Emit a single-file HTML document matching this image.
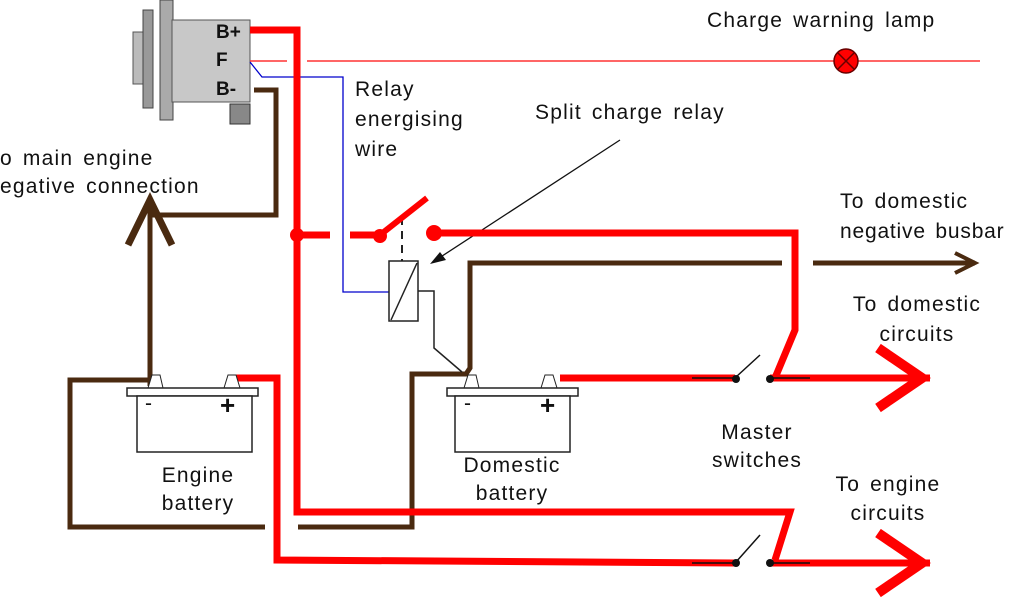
<!DOCTYPE html>
<html><head><style>
html,body{margin:0;padding:0;background:#fff;width:1024px;height:600px;overflow:hidden}
svg text{font-family:"Liberation Sans",sans-serif;font-size:21px;letter-spacing:1.2px;word-spacing:3px;fill:#111}
</style></head><body>
<svg width="1024" height="600" viewBox="0 0 1024 600" xmlns="http://www.w3.org/2000/svg">
<rect x="133" y="32" width="10" height="52" fill="#bbb" stroke="#555"/>
<rect x="143" y="10" width="10" height="98" fill="#999" stroke="#444"/>
<rect x="160" y="0" width="13" height="120" fill="#aaa" stroke="#444"/>
<rect x="172" y="20" width="78" height="82" fill="#c8c8c8" stroke="#555"/>
<rect x="230" y="104" width="20" height="20" fill="#888" stroke="#333"/>
<text x="216" y="38" style="font-weight:bold;font-size:19px;letter-spacing:0">B+</text>
<text x="216" y="66" style="font-weight:bold;font-size:19px;letter-spacing:0">F</text>
<text x="216" y="95" style="font-weight:bold;font-size:19px;letter-spacing:0">B-</text>
<line x1="250" y1="61" x2="287" y2="61" stroke="#f33" stroke-width="1.5"/>
<line x1="307" y1="61" x2="980" y2="61" stroke="#f33" stroke-width="1.5"/>
<circle cx="846" cy="61" r="12" fill="#f00" stroke="#600" stroke-width="1.5"/>
<path d="M838 53L854 69M854 53L838 69" stroke="#600" stroke-width="1.5"/>
<polyline points="250,62 262,77 343,77 343,292 389,292" fill="none" stroke="#00c" stroke-width="1.3"/>
<g fill="none" stroke="#4a2a10" stroke-width="5">
<polyline points="254,90 276,90 276,215 150,215"/>
<line x1="150" y1="205" x2="150" y2="385"/>
<polyline points="128,245 150,200 172,245" stroke-width="7"/>
<polyline points="150,386 150,380 70,380 70,527 265,527"/>
<polyline points="298,527 412,527 412,374 466,374 470,368 470,263 782,263"/>
<line x1="813" y1="263" x2="975" y2="263"/>
<polyline points="955,253 975,263 955,273" stroke-width="4"/>
</g>
<rect x="389" y="261" width="29" height="60" fill="#fff" stroke="#222" stroke-width="1.5"/>
<line x1="391" y1="320" x2="417" y2="263" stroke="#222" stroke-width="1.5"/>
<polyline points="418,291 434,291 434,348 462,372" fill="none" stroke="#222" stroke-width="1.5"/>
<line x1="402" y1="217" x2="402" y2="261" stroke="#222" stroke-width="2" stroke-dasharray="8,6"/>
<line x1="620" y1="140" x2="436" y2="260" stroke="#111" stroke-width="1.3"/>
<polygon points="430,264 446,260 440,252" fill="#111"/>
<g fill="none" stroke="#f00" stroke-width="7">
<polyline points="250,30 297,30 297,512 790,512 775,560"/>
<line x1="297" y1="235" x2="330" y2="235"/>
<line x1="350" y1="235" x2="380" y2="235"/>
<line x1="380" y1="235" x2="427" y2="198" stroke-width="6"/>
<polyline points="432,233 795,233 795,330 775,378"/>
<polyline points="228,378 277,378 277,560 735,563"/>
<line x1="560" y1="378" x2="735" y2="378"/>
<line x1="770" y1="378" x2="930" y2="378"/>
<line x1="770" y1="563" x2="930" y2="563"/>
<polyline points="878,348 922,378 878,408" stroke-width="10"/>
<polyline points="878,533 922,563 878,593" stroke-width="10"/>
</g>
<circle cx="297" cy="235" r="7" fill="#f00"/>
<circle cx="380" cy="236" r="7" fill="#f00"/>
<circle cx="434" cy="233" r="8" fill="#f00"/>
<g stroke="#111" stroke-width="1.5">
<line x1="692" y1="378" x2="735" y2="378"/><line x1="770" y1="378" x2="810" y2="378"/>
<line x1="736" y1="377" x2="760" y2="355"/>
<line x1="692" y1="563" x2="735" y2="563"/><line x1="770" y1="563" x2="810" y2="563"/>
<line x1="736" y1="562" x2="760" y2="535"/>
</g>
<circle cx="736" cy="379" r="4" fill="#111"/><circle cx="770" cy="379" r="4" fill="#111"/>
<circle cx="736" cy="563" r="4" fill="#111"/><circle cx="770" cy="563" r="4" fill="#111"/>
<polygon points="148,388 152,375 160,375 163,388" fill="#fff" stroke="#222"/>
<polygon points="224,388 228,375 236,375 240,388" fill="#fff" stroke="#222"/>
<rect x="127" y="388" width="131" height="8" fill="#fff" stroke="#222" stroke-width="1.5"/>
<rect x="137" y="396" width="115" height="56" fill="#fff" stroke="#222" stroke-width="1.5"/>
<text x="145" y="410">-</text><text x="220" y="414" style="font-size:26px;font-weight:bold">+</text>
<polygon points="464,388 468,375 476,375 479,388" fill="#fff" stroke="#222"/>
<polygon points="541,388 545,375 553,375 557,388" fill="#fff" stroke="#222"/>
<rect x="447" y="388" width="131" height="8" fill="#fff" stroke="#222" stroke-width="1.5"/>
<rect x="455" y="396" width="115" height="56" fill="#fff" stroke="#222" stroke-width="1.5"/>
<text x="464" y="410">-</text><text x="540" y="414" style="font-size:26px;font-weight:bold">+</text>
<text x="707" y="27">Charge warning lamp</text>
<text x="355" y="96">Relay</text>
<text x="355" y="126">energising</text>
<text x="355" y="156">wire</text>
<text x="535" y="119">Split charge relay</text>
<text x="0" y="165">o main engine</text>
<text x="0" y="193">egative connection</text>
<text x="840" y="208">To domestic</text>
<text x="840" y="238" style="letter-spacing:0.8px">negative busbar</text>
<text x="917" y="311" text-anchor="middle">To domestic</text>
<text x="917" y="341" text-anchor="middle">circuits</text>
<text x="757" y="439" text-anchor="middle">Master</text>
<text x="757" y="467" text-anchor="middle">switches</text>
<text x="888" y="491" text-anchor="middle">To engine</text>
<text x="888" y="520" text-anchor="middle">circuits</text>
<text x="198" y="482" text-anchor="middle">Engine</text>
<text x="198" y="510" text-anchor="middle">battery</text>
<text x="512" y="472" text-anchor="middle">Domestic</text>
<text x="512" y="500" text-anchor="middle">battery</text>
</svg>
</body></html>
